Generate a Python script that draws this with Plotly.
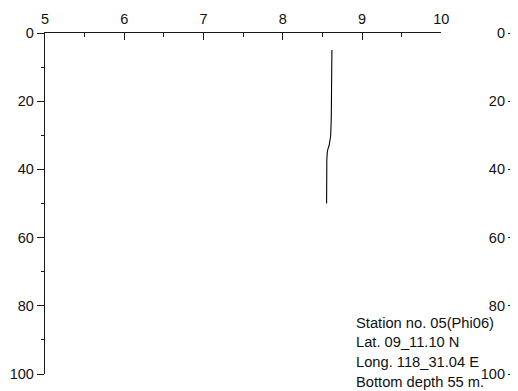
import plotly.graph_objects as go

# Data: temperature-like profile vs depth
depth = [5, 10, 15, 20, 25, 30, 32, 33, 34, 35, 37, 40, 45, 50]
value = [8.62, 8.62, 8.62, 8.62, 8.612, 8.605, 8.595, 8.585, 8.57, 8.562, 8.556, 8.554, 8.553, 8.553]

x_range = [5, 10]
y_range = [100, 0]
x_ticks = [5, 6, 7, 8, 9, 10]
y_ticks = [0, 20, 40, 60, 80, 100]

info_lines = [
    "Station no. 05(Phi06)",
    "Lat. 09_11.10 N",
    "Long. 118_31.04 E",
    "Bottom depth 55 m.",
]

FONT = "Liberation Sans, Arial, sans-serif"
AX = "#1a1a1a"

fig = go.Figure()
fig.add_trace(go.Scatter(x=value, y=depth, mode="lines",
                         line=dict(color="black", width=1.1),
                         xaxis="x", yaxis="y", showlegend=False, hoverinfo="skip"))
fig.add_trace(go.Scatter(x=[None], y=[None], mode="lines",
                         xaxis="x2", yaxis="y2", showlegend=False, hoverinfo="skip"))

common_x = dict(side="top", showline=True, linecolor=AX, linewidth=1.3,
                ticks="inside", ticklen=7, tickwidth=1.3, tickcolor=AX,
                showgrid=False, zeroline=False, automargin=False,
                ticklabelstandoff=2, ticklabeloverflow="allow",
                tickfont=dict(family=FONT, size=14.5, color="#111"))
common_y = dict(showline=True, linecolor=AX, linewidth=1.3,
                ticks="outside", ticklen=7, tickwidth=1.3, tickcolor=AX,
                showgrid=False, zeroline=False, range=y_range, automargin=False,
                tickvals=y_ticks,
                minor=dict(ticks="outside", ticklen=3, tickwidth=1.3, tickcolor=AX, dtick=10),
                tickfont=dict(family=FONT, size=14.5, color="#111"))

# page body has an 8px default margin, so the figure is sized to fit the window
fig.update_layout(
    width=510, height=383,
    margin=dict(l=37, r=0, t=25, b=16.5),
    paper_bgcolor="white", plot_bgcolor="white",
    xaxis=dict(domain=[0, 0.8378], range=x_range, tickvals=x_ticks, anchor="y",
               minor=dict(ticks="inside", ticklen=3.5, tickwidth=1.3, tickcolor=AX, dtick=0.5),
               **common_x),
    yaxis=dict(domain=[0, 1], anchor="x", side="left", **common_y),
    xaxis2=dict(domain=[0.9958, 1], range=[5, 5.03], tickvals=[5], anchor="y2", **common_x),
    yaxis2=dict(domain=[0, 1], anchor="x2", side="left", **common_y),
)

ys = [0.150, 0.093, 0.036, -0.023]
for txt, yy in zip(info_lines, ys):
    fig.add_annotation(text=txt, xref="paper", yref="paper", x=0.654, y=yy,
                       xanchor="left", yanchor="middle", showarrow=False,
                       font=dict(family=FONT, size=14.7, color="#111"))

fig.write_html("out.html")
